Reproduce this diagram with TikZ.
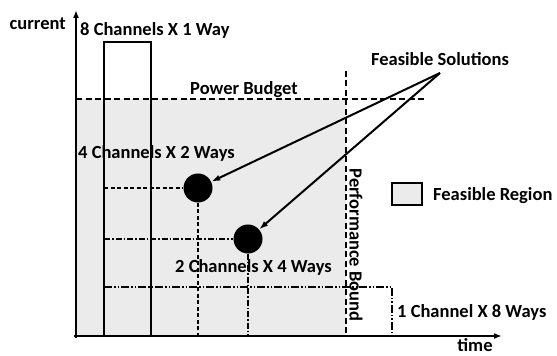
\documentclass[tikz,border=0pt]{standalone}
\usepackage{fontspec}
\setmainfont{Carlito}
\usetikzlibrary{arrows.meta}
\definecolor{regiongray}{HTML}{EBEBEB}
\begin{document}
\begin{tikzpicture}[x=1pt, y=1pt, font=\fontsize{18.5}{20}\selectfont\bfseries,
                    every node/.style={inner sep=0pt},
                    axis/.style={line width=2.2pt, -{Latex[length=8pt,width=6pt]}},
                    bound/.style={line width=1.8pt, dash pattern=on 6pt off 3.5pt},
                    pick/.style={circle, fill=black, minimum size=29pt, inner sep=0pt},
                    hint/.style={line width=2pt, -{Latex[length=9pt,width=6pt]}}]
        \useasboundingbox (0,0) rectangle (557,356);

        % Feasible region under both bounds
        \fill[regiongray] (76,20) rectangle (346,257);

        % Axes
        \coordinate (O) at (76,20);
        \draw[axis] (74,20) -- (502,20);
        \draw[axis] (76,18) -- (76,346);
        \node[anchor=base east] (cur) at (66,326) {current};
        \node[anchor=base] (time) at (475,4.5) {time};

        % 8 channels x 1 way
        \draw[line width=2pt] (104,20) rectangle (151,314);
        \node[anchor=base west] (c8) at (80,320) {8 Channels X 1 Way};

        % Power budget and performance bound
        \draw[bound] (76,257) -- (426,257);
        \node[anchor=base] (pb) at (244,261.5) {Power Budget};
        \draw[bound] (346,285) -- (346,20);
        \node[rotate=-90] (perf) at (356,111) {Performance Bound};

        % 4 channels x 2 ways
        \node[pick] (s1) at (198,168) {};
        \node[anchor=base west] (c4) at (78,197) {4 Channels X 2 Ways};
        \draw[line width=1.3pt, dash pattern=on 4pt off 2.5pt] (104,168) -- (s1);
        \draw[line width=1.3pt, dash pattern=on 4pt off 2.5pt] (s1) -- (s1 |- O);

        % 2 channels x 4 ways
        \node[pick] (s2) at (248,117) {};
        \node[anchor=base west] (c2) at (175,83) {2 Channels X 4 Ways};
        \draw[line width=1.3pt, dash pattern=on 6pt off 2pt on 1.5pt off 2pt] (104,117) -- (s2);
        \draw[line width=1.3pt, dash pattern=on 6pt off 2pt on 1.5pt off 2pt] (s2) -- (s2 |- O);

        % 1 channel x 8 ways
        \draw[line width=1.3pt, dash pattern=on 8pt off 2pt on 1.5pt off 2pt on 1.5pt off 2pt]
            (104,69) -- (392,69) -- (392,20);
        \node[anchor=base west] (c1) at (397,38) {1 Channel X 8 Ways};

        % Legend
        \draw[fill=regiongray, line width=1.3pt] (392,151) rectangle (422,173);
        \node[anchor=base west] (leg) at (433,155) {Feasible Region};

        % Pointers to the solutions
        \node[anchor=base] (fs) at (440,290) {Feasible Solutions};
        \coordinate (tip) at (440,283);
        \draw[hint] (tip) -- (s1);
        \draw[hint] (tip) -- (s2);

    \end{tikzpicture}
\end{document}
